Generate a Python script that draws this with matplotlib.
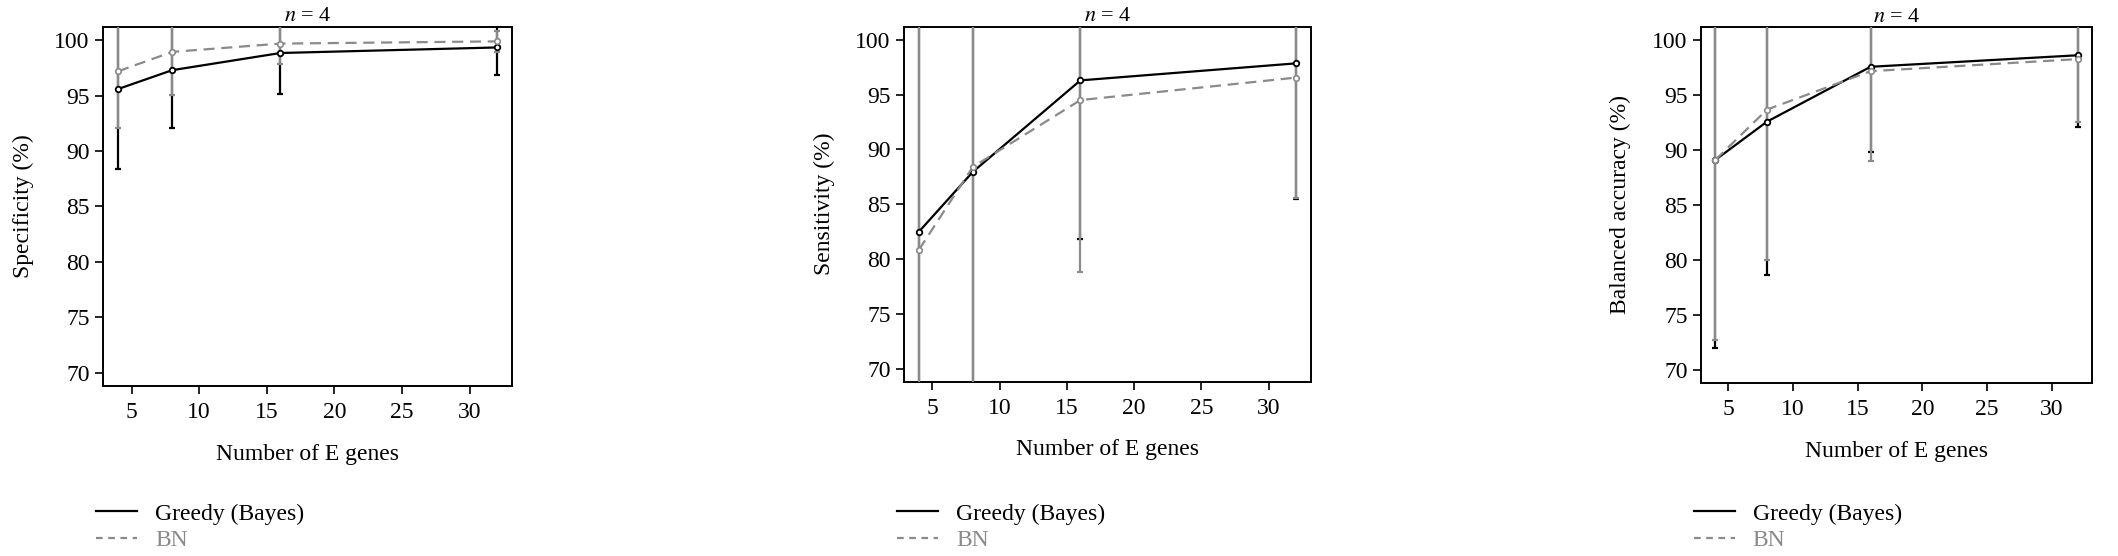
import matplotlib
matplotlib.use("Agg")
import matplotlib.pyplot as plt
from matplotlib.lines import Line2D

plt.rcParams["font.family"] = ["Liberation Serif", "DejaVu Serif"]
plt.rcParams["mathtext.fontset"] = "stix"

# ---- data ----
n_genes = [4, 8, 16, 32]

spec_greedy    = [95.6, 97.3, 98.85, 99.35]
spec_greedy_sd = [7.2, 5.2, 3.7, 2.45]
spec_bn        = [97.2, 98.95, 99.7, 99.9]
spec_bn_sd     = [5.1, 3.85, 1.8, 0.95]

sens_greedy    = [82.5, 87.95, 96.3, 97.85]
sens_greedy_sd = [19.5, 20.0, 14.5, 12.4]
sens_bn        = [80.85, 88.4, 94.5, 96.55]
sens_bn_sd     = [23.0, 23.0, 15.7, 11.0]

bacc_greedy    = [89.1, 92.6, 97.6, 98.65]
bacc_greedy_sd = [17.1, 14.0, 7.75, 6.55]
bacc_bn        = [89.1, 93.7, 97.2, 98.3]
bacc_bn_sd     = [16.4, 13.7, 8.15, 5.75]

ylabels = ["Specificity (%)", "Sensitivity (%)", "Balanced accuracy (%)"]
title = "$n$ = 4"
xlabel = "Number of E genes"
legend_labels = ["Greedy (Bayes)", "BN"]

GRAY = "#8a8a8a"
FS = 17

fig = plt.figure(figsize=(21.18, 5.56), dpi=100)

# axes boxes in figure fractions (left, bottom, width, height)
boxes = [
    (0.0486, 0.3058, 0.1931, 0.6457),
    (0.4268, 0.3135, 0.1920, 0.6385),
    (0.8030, 0.3117, 0.1848, 0.6392),
]

panels = [
    (spec_greedy, spec_greedy_sd, spec_bn, spec_bn_sd),
    (sens_greedy, sens_greedy_sd, sens_bn, sens_bn_sd),
    (bacc_greedy, bacc_greedy_sd, bacc_bn, bacc_bn_sd),
]

for box, (g, gsd, b, bsd), ylab in zip(boxes, panels, ylabels):
    ax = fig.add_axes(box)
    # greedy first, BN drawn on top
    ax.errorbar(n_genes, g, yerr=gsd, fmt="none", ecolor="black",
                elinewidth=1.6, capsize=2.5, capthick=1.6, zorder=2)
    ax.errorbar(n_genes, b, yerr=bsd, fmt="none", ecolor=GRAY,
                elinewidth=1.6, capsize=2.5, capthick=1.6, zorder=3)
    ax.plot(n_genes, g, color="black", lw=1.6, marker="o", ms=4,
            mfc="white", mec="black", mew=1.3, zorder=4)
    ax.plot(n_genes, b, color=GRAY, lw=1.6, ls=(0, (5, 3)), marker="o", ms=4,
            mfc="white", mec=GRAY, mew=1.2, zorder=4)

    ax.set_xlim(2.88, 33.12)
    ax.set_ylim(68.8, 101.2)
    ax.set_xticks([5, 10, 15, 20, 25, 30])
    ax.set_yticks([70, 75, 80, 85, 90, 95, 100])
    ax.tick_params(direction="out", length=5.5, width=1.2, labelsize=FS)
    ax.tick_params(axis="x", pad=6)
    ax.tick_params(axis="y", pad=4)
    for sp in ax.spines.values():
        sp.set_linewidth(1.4)
    ax.set_ylabel(ylab, fontsize=FS, labelpad=15)
    ax.set_xlabel(xlabel, fontsize=FS, labelpad=15)
    ax.set_title(title, fontsize=16, pad=4)

    handles = [Line2D([], [], color="black", lw=1.6),
               Line2D([], [], color=GRAY, lw=1.6, ls=(0, (3, 2.5)))]
    leg = fig.legend(handles, legend_labels, loc="upper left",
                     bbox_to_anchor=(box[0] - 7 / 2118, 0.095),
                     frameon=False, fontsize=FS, handlelength=1.75,
                     handletextpad=0.75, labelspacing=0.2, borderpad=0,
                     borderaxespad=0)
    leg.get_texts()[1].set_color(GRAY)

fig.savefig("out.png", dpi=100)
